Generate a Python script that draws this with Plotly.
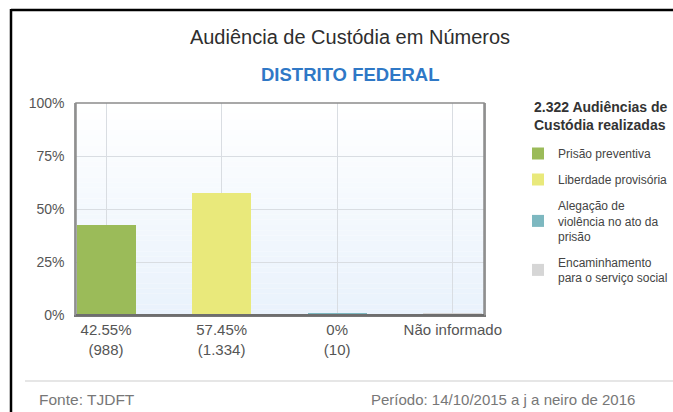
import plotly.graph_objects as go

# ---- data ----
categories = ["Prisão preventiva", "Liberdade provisória",
              "Alegação de violência no ato da prisão",
              "Encaminhamento para o serviço social"]
legend_names = ["Prisão preventiva", "Liberdade provisória",
                "Alegação de<br>violência no ato da<br>prisão",
                "Encaminhamento<br>para o serviço social"]
percent_values = [42.55, 57.45, 0.9, 0.8]
tick_labels = ["42.55%<br>(988)", "57.45%<br>(1.334)", "0%<br>(10)", "Não informado"]
y_ticks = [0, 25, 50, 75, 100]
y_tick_labels = ["0%", "25%", "50%", "75%", "100%"]
colors = ["#9bbb59", "#e9e97b", "#7db8c0", "#d6d6d6"]

W, H = 673, 412
L, R, T, B = 76, 484, 103, 315  # plot area in px


def px_x(p):
    return (p - L) / (R - L)


def px_y(p):
    return (B - p) / (B - T)


fig = go.Figure()
for i, (name, val, col) in enumerate(zip(legend_names, percent_values, colors)):
    fig.add_trace(go.Bar(
        x=[i], y=[val], name=name, marker=dict(color=col, line=dict(width=0)),
        width=0.51, legendgroup=f"g{i}", hoverinfo="skip", showlegend=True,
    ))

shapes = []
# gradient background of the plot area
n = 40
top = (255, 255, 255)
bot = (233, 242, 252)
for k in range(n):
    t = (k + 0.5) / n
    c = tuple(round(top[j] + (bot[j] - top[j]) * t) for j in range(3))
    shapes.append(dict(type="rect", xref="paper", yref="paper",
                       x0=0, x1=1, y0=1 - (k + 1) / n, y1=1 - k / n,
                       fillcolor=f"rgb{c}", line=dict(width=0), layer="below"))
# black frame (top and left)
shapes.append(dict(type="line", xref="paper", yref="paper",
                   x0=px_x(11), x1=px_x(11), y0=px_y(9), y1=px_y(420),
                   line=dict(color="black", width=2.5)))
shapes.append(dict(type="line", xref="paper", yref="paper",
                   x0=px_x(11), x1=px_x(680), y0=px_y(10), y1=px_y(10),
                   line=dict(color="black", width=2.5)))
# footer separator
shapes.append(dict(type="line", xref="paper", yref="paper",
                   x0=px_x(25), x1=px_x(680), y0=px_y(381), y1=px_y(381),
                   line=dict(color="#e6e6e6", width=2)))

annotations = [
    dict(text="<b>DISTRITO FEDERAL</b>", xref="paper", yref="paper",
         x=px_x(350), y=px_y(74), xanchor="center", yanchor="middle",
         showarrow=False, font=dict(size=18.5, color="#2f78c6")),
    dict(text="<b>2.322 Audiências de<br>Custódia realizadas</b>", xref="paper", yref="paper",
         x=px_x(532), y=px_y(116), xanchor="left", yanchor="middle", align="left",
         showarrow=False, font=dict(size=14, color="#333333")),
    dict(text="Fonte: TJDFT", xref="paper", yref="paper",
         x=px_x(37), y=px_y(399), xanchor="left", yanchor="middle",
         showarrow=False, font=dict(size=15.5, color="#777777")),
    dict(text="Período: 14/10/2015 a j a neiro de 2016", xref="paper", yref="paper",
         x=px_x(637), y=px_y(399), xanchor="right", yanchor="middle",
         showarrow=False, font=dict(size=15, color="#777777")),
]

fig.update_layout(
    width=W, height=H,
    margin=dict(l=L, r=W - R, t=T, b=H - B, autoexpand=False),
    paper_bgcolor="white", plot_bgcolor="rgba(0,0,0,0)",
    font=dict(family="Liberation Sans, Arial, sans-serif", color="#555555", size=13),
    title=dict(text="Audiência de Custódia em Números", x=350 / W, xanchor="center",
               y=1 - 37 / H, yanchor="middle",
               font=dict(size=20, color="#2e2e2e")),
    barmode="overlay",
    bargap=0,
    showlegend=True,
    legend=dict(
        xref="container", yref="container",
        x=518 / W, y=1 - 139 / H, xanchor="left", yanchor="top",
        font=dict(size=12, color="#444444"),
        tracegroupgap=7, bgcolor="rgba(0,0,0,0)",
        itemclick=False, itemdoubleclick=False,
    ),
    xaxis=dict(
        range=[-0.26, 3.27], tickmode="array", tickvals=list(range(len(tick_labels))),
        ticktext=tick_labels, showgrid=True, gridcolor="#d9dde2", gridwidth=1,
        showline=True, linecolor="#777777", linewidth=2, mirror=False,
        ticks="", zeroline=False, fixedrange=True,
        tickfont=dict(size=15, color="#555555"),
    ),
    yaxis=dict(
        range=[0, 100], tickmode="array", tickvals=y_ticks, ticktext=y_tick_labels,
        showgrid=True, gridcolor="#d9dde2", gridwidth=1,
        showline=True, linecolor="#9a9a9a", linewidth=1.5, mirror=True,
        ticks="", ticklabelstandoff=7, zeroline=False, fixedrange=True,
        tickfont=dict(size=14, color="#555555"),
    ),
    shapes=shapes,
    annotations=annotations,
)
# frame of plot area
fig.add_shape(type="rect", xref="paper", yref="paper", x0=0, x1=1, y0=0, y1=1,
              line=dict(color="#8c8c8c", width=1.5), layer="above")
fig.add_shape(type="line", xref="paper", yref="paper", x0=0, x1=1, y0=0, y1=0,
              line=dict(color="#6e6e6e", width=2), layer="above")

fig.write_html(
    "out.html",
    config={"displayModeBar": False},
    post_script="document.body.style.margin='0px';document.body.style.overflow='hidden';",
)
